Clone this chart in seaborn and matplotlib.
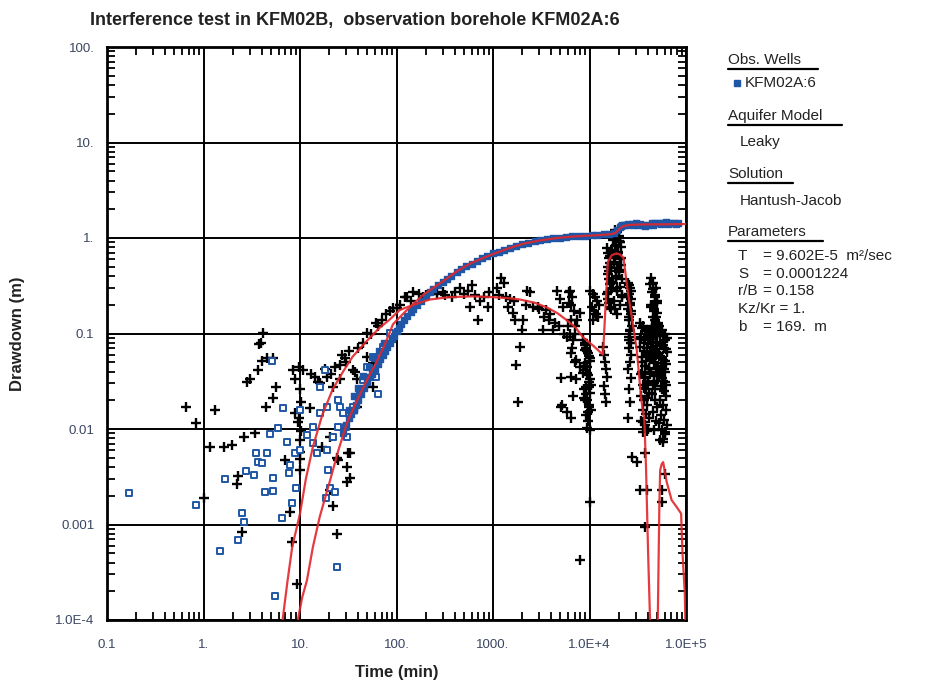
import numpy as np
import pandas as pd
import matplotlib
matplotlib.use("Agg")
import matplotlib.pyplot as plt
import seaborn as sns
from matplotlib.lines import Line2D
from matplotlib.ticker import FixedLocator, FixedFormatter, LogLocator, NullFormatter

# ---------------- data ----------------
x_ticks = [0.1, 1, 10, 100, 1000, 1e4, 1e5]
x_tick_labels = ["0.1", "1.", "10.", "100.", "1000.", "1.0E+4", "1.0E+5"]
y_ticks = [1e-4, 1e-3, 1e-2, 1e-1, 1, 10, 100]
y_tick_labels = ["1.0E-4", "0.001", "0.01", "0.1", "1.", "10.", "100."]

# observed drawdown KFM02A:6 - scattered early values (hollow squares)
obs_early_t = [0.169, 0.835, 1.48, 1.67, 2.28, 2.5, 2.6, 2.75, 3.3, 3.5,
               3.65, 4.0, 4.3, 4.55, 4.9, 5.1, 5.25, 5.25, 5.5, 5.9,
               6.5, 6.7, 7.3, 7.7, 7.9, 8.3, 8.8, 9.1, 10, 10,
               11.8, 13.6, 13.6, 15, 16, 16, 18, 18.6, 19, 19,
               19.5, 20.5, 22, 23, 24, 25, 25, 26, 28, 30,
               30.6, 35, 42, 45, 49.5, 57, 62, 65, 72, 85]
obs_early_s = [0.00214, 0.0016, 0.00053, 0.003, 0.00069, 0.00132, 0.00106, 0.00363, 0.0033, 0.0056,
               0.0045, 0.0044, 0.0022, 0.0056, 0.0089, 0.0515, 0.0031, 0.00224, 0.000178, 0.0102,
               0.00117, 0.0166, 0.0073, 0.0035, 0.0042, 0.00168, 0.0056, 0.0024, 0.006, 0.0158,
               0.0087, 0.0106, 0.0072, 0.0056, 0.0146, 0.0275, 0.0415, 0.0019, 0.017, 0.006,
               0.0037, 0.0024, 0.0082, 0.0022, 0.00036, 0.0106, 0.02, 0.017, 0.0146, 0.0106,
               0.0082, 0.017, 0.0238, 0.0326, 0.045, 0.057, 0.035, 0.023, 0.072, 0.101]

# observed drawdown - main dense band (filled squares)
obs_main_t = [28, 30, 32, 34, 36, 38, 40, 43, 46, 50,
              53, 56, 60, 64, 68, 72, 76, 80, 85, 90,
              95, 100, 106, 112, 120, 130, 140, 150, 165, 180,
              200, 220, 240, 270, 300, 330, 370, 420, 470, 530,
              600, 680, 770, 870, 1000, 1150, 1300, 1500, 1750, 2000,
              2300, 2700, 3100, 3600, 4200, 4900, 5700, 6600, 7700, 9000,
              10500, 12000, 14000, 16000, 18000, 19500, 20500, 21500, 23000, 25000,
              27500, 30000, 33000, 36000, 40000, 44000, 48000, 52000, 57000, 62000,
              68000, 75000, 82000,
              32, 36, 40, 45, 52, 58, 66, 75,
              21000, 24000, 28000, 32000, 38000, 45000, 55000, 65000, 78000]
obs_main_s = [0.009, 0.011, 0.013, 0.0145, 0.016, 0.018, 0.02, 0.023, 0.027, 0.031,
              0.035, 0.038, 0.043, 0.048, 0.054, 0.06, 0.066, 0.072, 0.08, 0.088,
              0.095, 0.105, 0.115, 0.125, 0.137, 0.152, 0.167, 0.18, 0.2, 0.22,
              0.245, 0.27, 0.29, 0.32, 0.345, 0.37, 0.4, 0.44, 0.47, 0.51,
              0.54, 0.58, 0.62, 0.65, 0.69, 0.72, 0.75, 0.79, 0.83, 0.86,
              0.89, 0.92, 0.95, 0.97, 0.99, 1.01, 1.03, 1.04, 1.05, 1.06,
              1.07, 1.08, 1.09, 1.1, 1.12, 1.2, 1.3, 1.36, 1.38, 1.4,
              1.41, 1.42, 1.40, 1.36, 1.37, 1.42, 1.44, 1.43, 1.45, 1.46,
              1.44, 1.42, 1.44,
              0.016, 0.022, 0.027, 0.036, 0.045, 0.055, 0.065, 0.08,
              1.33, 1.36, 1.38, 1.37, 1.33, 1.38, 1.40, 1.41, 1.40]

# derivative data (black crosses)
deriv_early_t = [0.66, 0.835, 1.0, 1.17, 1.32, 1.63, 1.98, 2.2, 2.28, 2.5,
                 2.63, 2.8, 3.0, 3.4, 3.65, 3.75, 3.9, 4.0, 4.1, 4.45,
                 4.5, 5.2, 5.3, 5.6, 7.0, 7.9, 8.2, 8.5, 8.8, 8.8,
                 9.3, 9.5, 9.7, 9.8, 9.9, 10.0, 10.0, 10.0, 10.1, 10.2,
                 10.3, 10.7, 12.6, 13.0, 14.3, 15.3, 16.0, 17.0, 18.0, 19.0,
                 20.5, 20.5, 21.0, 22.0, 22.0, 23.0, 24.0, 24.0, 25.0, 26.0,
                 26.0, 27.0, 29.0, 30.0, 30.6, 30.6, 31.4, 32.0, 33.0, 33.0,
                 35.0, 35.0, 37.0, 39.0, 39.0, 40.0, 45.0, 49.5, 49.5, 55.0,
                 57.0, 57.0, 62.0, 65.0, 70.0, 78.0, 85.0, 92.0]
deriv_early_s = [0.017, 0.0116, 0.0019, 0.0065, 0.0158, 0.0065, 0.0068, 0.00265, 0.0032, 0.00083,
                 0.0082, 0.031, 0.033, 0.009, 0.0415, 0.078, 0.08, 0.052, 0.101, 0.017,
                 0.056, 0.0213, 0.056, 0.0275, 0.0047, 0.00135, 0.00066, 0.0415, 0.033, 0.0146,
                 0.00024, 0.0118, 0.013, 0.045, 0.0058, 0.026, 0.0077, 0.0037, 0.0048, 0.019,
                 0.0095, 0.0415, 0.0165, 0.038, 0.035, 0.031, 0.03, 0.0065, 0.042, 0.035,
                 0.0082, 0.0023, 0.038, 0.0275, 0.00158, 0.045, 0.0008, 0.005, 0.0047, 0.047,
                 0.033, 0.06, 0.056, 0.05, 0.004, 0.0028, 0.0056, 0.065, 0.0056, 0.0031,
                 0.0415, 0.0146, 0.04, 0.033, 0.017, 0.07, 0.08, 0.057, 0.101, 0.1,
                 0.0275, 0.049, 0.13, 0.12, 0.14, 0.16, 0.17, 0.185]

deriv_mid_t = [100, 110, 122, 130, 140, 150, 170, 190, 200, 240,
               260, 300, 320, 380, 400, 450, 500, 550, 580, 600,
               650, 700, 730, 800, 880, 910, 1100, 1200, 1300, 1420,
               1600, 1700, 1750, 1800, 1900, 2000, 2050, 2250, 2400, 2900,
               3300, 3500, 3900, 4200, 4600, 5000, 5100, 5100, 5200, 5300,
               5800, 5800, 6200, 6200, 6400, 7000, 7300, 7300, 7500, 7900,
               7900, 8000, 8500, 8900, 8900, 9300, 9400, 9400, 9800, 9800,
               10000, 1150, 1350, 1500, 1650, 2200, 2600, 3000, 3400, 3800,
               4400, 4800, 5500, 6000]
deriv_mid_s = [0.185, 0.2, 0.24, 0.24, 0.22, 0.27, 0.26, 0.24, 0.25, 0.28,
               0.26, 0.27, 0.25, 0.24, 0.27, 0.30, 0.26, 0.28, 0.19, 0.32,
               0.25, 0.14, 0.22, 0.24, 0.19, 0.27, 0.30, 0.38, 0.34, 0.19,
               0.165, 0.14, 0.047, 0.019, 0.072, 0.11, 0.14, 0.28, 0.27, 0.19,
               0.11, 0.176, 0.16, 0.11, 0.28, 0.227, 0.034, 0.017, 0.0177, 0.19,
               0.092, 0.015, 0.27, 0.21, 0.063, 0.10, 0.053, 0.033, 0.14, 0.045,
               0.165, 0.00042, 0.039, 0.067, 0.02, 0.0275, 0.045, 0.0102, 0.017, 0.0275,
               0.0017, 0.25, 0.24, 0.23, 0.22, 0.2, 0.19, 0.18, 0.15, 0.14,
               0.13, 0.12, 0.1, 0.12]

col_a_t = [6300, 6600, 6400, 6900, 6500, 7000, 6300, 6800, 6600, 7100, 6400, 6700, 6500]
col_a_s = [0.28, 0.24, 0.2, 0.17, 0.14, 0.12, 0.1, 0.085, 0.07, 0.05, 0.035, 0.022, 0.013]

col_b_t = [8600, 9000, 9400, 9800, 10200, 8800, 9200, 9600, 10000, 10400,
           8700, 9100, 9500, 9900, 10300, 9300, 9700, 10100,
           8900, 9300, 9700, 10100, 9000, 9400, 9800, 10200, 8800, 9600]
col_b_s = [0.085, 0.075, 0.065, 0.058, 0.052, 0.046, 0.041, 0.037, 0.033, 0.029,
           0.026, 0.023, 0.02, 0.018, 0.016, 0.014, 0.012, 0.0098,
           0.08, 0.07, 0.062, 0.055, 0.049, 0.039, 0.031, 0.024, 0.021, 0.015]

col_c_t = [10200, 10800, 11400, 12000, 12500, 10500, 11100, 11700, 12300, 11000]
col_c_s = [0.28, 0.26, 0.24, 0.22, 0.2, 0.19, 0.17, 0.16, 0.15, 0.14]

col_d_t = [13900, 14200, 14500, 14800, 15100, 14000, 14400, 14700]
col_d_s = [0.072, 0.06, 0.05, 0.042, 0.035, 0.028, 0.023, 0.019]

col_e_t = [15200, 15600, 16000, 16400, 16800, 15400, 15800, 16200, 16600, 15300,
           15700, 16100, 16500, 16900, 15500,
           18500, 19500, 18000, 20000, 19000, 17500, 20500, 18800, 21000,
           17200, 19800, 18300, 20800, 17800, 21300, 19200, 20200,
           18600, 21500, 17600, 20600, 19400, 21800, 18100, 20900,
           18300, 19500, 20700,
           17400, 19100, 20300, 18200, 19700, 21200, 17900, 20100, 18700, 19300,
           16300, 15900, 16700, 15600, 21700]
col_e_s = [0.78, 0.7, 0.62, 0.55, 0.48, 0.42, 0.37, 0.33, 0.29, 0.26,
           0.23, 0.21, 0.19, 0.18, 0.5,
           1.2, 1.15, 1.1, 1.05, 1.0, 0.95, 0.9, 0.85, 0.8,
           0.75, 0.7, 0.65, 0.6, 0.56, 0.52, 0.48, 0.44,
           0.4, 0.37, 0.34, 0.31, 0.28, 0.25, 0.22, 0.2,
           0.18, 0.16, 0.9,
           1.1, 1.0, 0.92, 0.82, 0.72, 0.62, 0.54, 0.46, 0.38, 0.3,
           0.65, 0.45, 0.35, 0.27, 0.24]

col_f_t = [25000, 26500, 25500, 27000, 26000, 25200, 26800, 25800, 27300, 26200,
           25400, 26600, 25600, 27100, 26300, 25100, 26900, 25900, 26400, 25300,
           25700, 26700, 25300, 26100, 27200, 25900, 26500, 25500]
col_f_s = [0.34, 0.3, 0.26, 0.23, 0.2, 0.18, 0.16, 0.14, 0.12, 0.105,
           0.092, 0.08, 0.07, 0.06, 0.05, 0.042, 0.034, 0.026, 0.019, 0.013,
           0.32, 0.28, 0.24, 0.21, 0.17, 0.15, 0.11, 0.086]

col_g_t = [33000, 36000, 39000, 41500, 34500, 37500, 40500, 33500, 36500, 39500,
           42000, 35000, 38000, 41000, 34000, 37000, 40000, 35500, 38500, 41800,
           33800, 36800, 39800, 35800, 38800, 41200, 34200, 37200, 40200, 36200,
           34800, 37800, 40800, 33300, 36300, 39300, 42200, 35300, 38300, 41300,
           34600, 37600, 40600, 36600, 39600]
col_g_s = [0.13, 0.12, 0.11, 0.1, 0.092, 0.085, 0.078, 0.072, 0.066, 0.06,
           0.055, 0.05, 0.046, 0.042, 0.038, 0.035, 0.032, 0.029, 0.026, 0.024,
           0.022, 0.02, 0.018, 0.016, 0.0145, 0.013, 0.012, 0.011, 0.01, 0.0093,
           0.115, 0.105, 0.095, 0.088, 0.08, 0.07, 0.063, 0.057, 0.052, 0.044,
           0.04, 0.034, 0.03, 0.027, 0.021]

col_h_t = [43000, 46000, 49000, 44500, 47500, 50500, 43500, 46500, 49500, 45000,
           48000, 51000, 44000, 47000, 50000, 45500, 48500, 43200, 46200, 49200,
           44800, 47800, 50800, 43800, 46800, 49800, 45200, 48200, 44200, 47200,
           50200, 45800, 48800, 46600,
           42600, 45100, 47300, 49700, 43900, 46300, 48700, 51000, 44600, 47600,
           50000, 43300, 45900, 48400, 50600, 44300, 46900, 49400, 42800, 47000]
col_h_s = [0.38, 0.34, 0.3, 0.27, 0.24, 0.22, 0.2, 0.18, 0.165, 0.15,
           0.137, 0.125, 0.114, 0.104, 0.095, 0.087, 0.079, 0.072, 0.066, 0.06,
           0.054, 0.049, 0.044, 0.04, 0.036, 0.032, 0.029, 0.026, 0.023, 0.02,
           0.017, 0.015, 0.012, 0.0097,
           0.33, 0.29, 0.25, 0.21, 0.19, 0.17, 0.15, 0.13, 0.12, 0.11,
           0.1, 0.09, 0.082, 0.074, 0.068, 0.058, 0.05, 0.043, 0.038, 0.03]

col_i_t = [52000, 56000, 60000, 63000, 54000, 58000, 62000, 53000, 57000, 61000,
           55000, 59000, 52500, 56500, 60500, 54500, 58500, 62500, 53500, 57500,
           61500, 55500, 59500, 63500, 56000, 60000, 58000, 54000,
           53200, 57200, 61200, 55200, 59200, 63200, 54200, 58200, 62200, 56200,
           60200, 52800, 57800, 61800, 55800]
col_i_s = [0.12, 0.11, 0.1, 0.09, 0.082, 0.075, 0.068, 0.062, 0.056, 0.051,
           0.046, 0.042, 0.038, 0.034, 0.031, 0.028, 0.025, 0.022, 0.02, 0.018,
           0.016, 0.014, 0.0125, 0.011, 0.0098, 0.0088, 0.0079, 0.0077,
           0.105, 0.095, 0.086, 0.078, 0.07, 0.064, 0.058, 0.053, 0.048, 0.044,
           0.04, 0.036, 0.032, 0.029, 0.026]

deriv_late_t = [27500, 31000, 33000, 39000, 38000, 38000, 39000, 52000, 61000, 58000,
                61000, 56000, 56000, 36000]
deriv_late_s = [0.0051, 0.0045, 0.0023, 0.0023, 0.0056, 0.00094, 0.0095, 0.0116, 0.0093, 0.0073,
                0.0034, 0.0023, 0.0017, 0.0118]

# Hantush-Jacob fitted drawdown curve
fit_t = [9.5, 10.5, 11.8, 13.6, 16, 20.5, 25, 30.7, 40, 49.5,
         60, 75, 92, 120, 150, 190, 300, 424, 600, 930,
         1400, 2050, 3000, 4600, 7000, 10000, 14000, 17000, 18500, 20000,
         21500, 23000, 26000, 30000, 40000, 60000, 100000]
fit_s = [1e-4, 1.7e-4, 2.6e-4, 5.8e-4, 1.2e-3, 2.9e-3, 6.0e-3, 0.0116, 0.021, 0.0326,
         0.047, 0.075, 0.125, 0.165, 0.205, 0.255, 0.35, 0.45, 0.55, 0.66,
         0.77, 0.87, 0.94, 1.0, 1.04, 1.06, 1.08, 1.1, 1.13, 1.22,
         1.3, 1.34, 1.37, 1.38, 1.39, 1.39, 1.40]

# fitted derivative curve
dfit_t = [6.6, 7.4, 8.3, 10, 11.5, 13.6, 17, 21.8, 28, 35,
          50, 67, 85, 108, 150, 222, 350, 621, 1000, 1400,
          1900, 2700, 3640, 4700, 5850, 7200, 8500, 11000, 13800, 15500,
          17000, 19000, 20800, 22500, 25000, 28000, 30900, 34500, 37000, 38500,
          40500, 42400, 45000, 48000, 51000, 53000, 54000, 56000, 58000, 63000,
          71000, 81000, 89000, 92000, 97000, 100000]
dfit_s = [1e-4, 2.5e-4, 5.8e-4, 1.3e-3, 3.0e-3, 6.5e-3, 0.014, 0.026, 0.04, 0.057,
          0.085, 0.115, 0.14, 0.176, 0.2, 0.227, 0.24, 0.245, 0.24, 0.235,
          0.227, 0.21, 0.187, 0.162, 0.137, 0.115, 0.092, 0.074, 0.06, 0.56,
          0.66, 0.69, 0.67, 0.62, 0.27, 0.13, 0.067, 0.02, 0.0125, 0.004,
          0.0005, 1e-4, 3e-5, 3e-5, 1e-4, 1.7e-3, 3.7e-3, 4.3e-3, 4.5e-3, 2.8e-3,
          1.8e-3, 1.5e-3, 1.3e-3, 5e-4, 2e-4, 5e-5]

# ---------------- styling ----------------
sns.set_style("white")
plt.rcParams['font.family'] = ['Liberation Sans', 'DejaVu Sans']

RED = '#e3262b'
BLUE = '#1f56a5'
TXT = '#222222'
TICKTXT = '#3a4560'

fig = plt.figure(figsize=(9.43, 6.83), dpi=100)
ax = fig.add_axes([107 / 943, 63 / 683, 579 / 943, 573 / 683])

black_df = pd.concat([
    pd.DataFrame({'t': t, 's': s}) for t, s in [
        (deriv_early_t, deriv_early_s), (deriv_mid_t, deriv_mid_s),
        (col_a_t, col_a_s), (col_b_t, col_b_s), (col_c_t, col_c_s),
        (col_d_t, col_d_s), (col_e_t, col_e_s), (col_f_t, col_f_s),
        (col_g_t, col_g_s), (col_h_t, col_h_s), (col_i_t, col_i_s),
        (deriv_late_t, deriv_late_s)]
], ignore_index=True)

obs_early_df = pd.DataFrame({'t': obs_early_t, 's': obs_early_s})
obs_main_df = pd.DataFrame({'t': obs_main_t, 's': obs_main_s})
fit_df = pd.DataFrame({'t': fit_t, 's': fit_s})
dfit_df = pd.DataFrame({'t': dfit_t, 's': dfit_s})

ax.set_xscale('log')
ax.set_yscale('log')

sns.scatterplot(data=black_df, x='t', y='s', ax=ax, marker='+', color='black',
                s=45, linewidth=1.7, zorder=3, legend=False)
sns.scatterplot(data=obs_early_df, x='t', y='s', ax=ax, marker='s', color='white',
                edgecolor=BLUE, s=24, linewidth=1.4, zorder=4, legend=False)
sns.scatterplot(data=obs_main_df, x='t', y='s', ax=ax, marker='s', color=BLUE,
                edgecolor=BLUE, s=20, linewidth=1.0, zorder=4, legend=False)
sns.lineplot(data=fit_df, x='t', y='s', ax=ax, color=RED, linewidth=1.6,
             estimator=None, sort=False, zorder=5, alpha=0.9)
sns.lineplot(data=dfit_df, x='t', y='s', ax=ax, color=RED, linewidth=1.6,
             estimator=None, sort=False, zorder=5, alpha=0.9)

ax.set_xlim(0.1, 1e5)
ax.set_ylim(1e-4, 100)

ax.xaxis.set_major_locator(FixedLocator(x_ticks))
ax.xaxis.set_major_formatter(FixedFormatter(x_tick_labels))
ax.yaxis.set_major_locator(FixedLocator(y_ticks))
ax.yaxis.set_major_formatter(FixedFormatter(y_tick_labels))
for axis in (ax.xaxis, ax.yaxis):
    axis.set_minor_locator(LogLocator(base=10, subs=np.arange(2, 10), numticks=100))
    axis.set_minor_formatter(NullFormatter())

ax.tick_params(which='major', length=0, labelsize=9.5, labelcolor=TICKTXT)
ax.tick_params(axis='x', which='major', pad=14)
ax.tick_params(axis='y', which='major', pad=9)
ax.tick_params(which='minor', direction='in', length=6, width=1.3, color='black',
               top=True, right=True, bottom=True, left=True)
ax.grid(True, which='major', color='black', linewidth=1.4)
ax.grid(False, which='minor')
ax.set_axisbelow(True)
for sp in ax.spines.values():
    sp.set_visible(True)
    sp.set_linewidth(2.0)
    sp.set_color('black')

ax.set_xlabel('Time (min)', fontsize=12, fontweight='bold', color=TXT, labelpad=10)
ax.set_ylabel('Drawdown (m)', fontsize=12, fontweight='bold', color=TXT, labelpad=22)

fig.text(355 / 943, 1 - 20 / 683,
         'Interference test in KFM02B,  observation borehole KFM02A:6',
         ha='center', va='center', fontsize=13, fontweight='bold', color=TXT)

# ---------------- right-hand info panel ----------------
def py(y):
    return 1 - y / 683

def px(x):
    return x / 943

FS = 11
headings = [("Obs. Wells", 60, 818), ("Aquifer Model", 116, 842),
            ("Solution", 174, 793), ("Parameters", 232, 823)]
for label, yy, xend in headings:
    fig.text(px(728), py(yy), label, ha='left', va='center', fontsize=FS, color=TXT)
    fig.add_artist(Line2D([px(728), px(xend)], [py(yy + 9), py(yy + 9)],
                          color='black', linewidth=1.6))

fig.add_artist(Line2D([px(737)], [py(83)], marker='s', markersize=4,
                      color=BLUE, linestyle='none'))
fig.text(px(745), py(83), "KFM02A:6", ha='left', va='center', fontsize=FS, color=TXT)
fig.text(px(740), py(142), "Leaky", ha='left', va='center', fontsize=FS, color=TXT)
fig.text(px(740), py(201), "Hantush-Jacob", ha='left', va='center', fontsize=FS, color=TXT)

params = [("T", "= 9.602E-5  m²/sec", 256), ("S", "= 0.0001224", 274),
          ("r/B", "= 0.158", 291), ("b", "= 169.  m", 327)]
for name, val, yy in params:
    fig.text(px(738), py(yy), name, ha='left', va='center', fontsize=FS, color=TXT)
    fig.text(px(763), py(yy), val, ha='left', va='center', fontsize=FS, color=TXT)
fig.text(px(738), py(309), "Kz/Kr = 1.", ha='left', va='center', fontsize=FS, color=TXT)

fig.savefig('out.png', dpi=100)
